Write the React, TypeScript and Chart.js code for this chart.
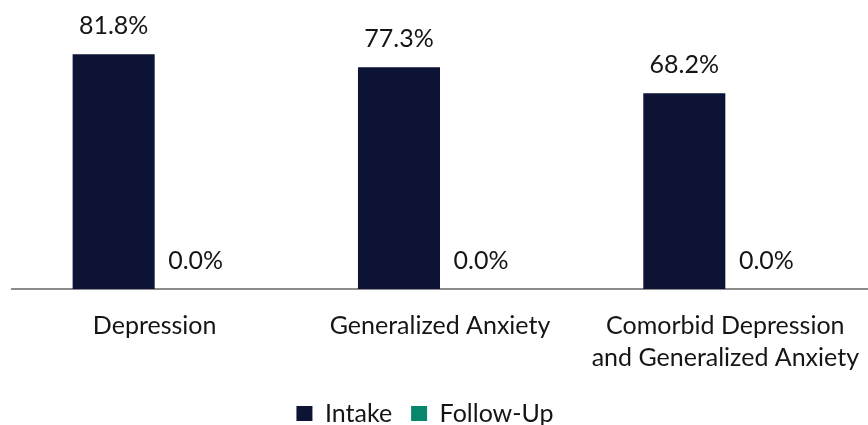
import React, { useEffect, useRef } from "react";
import { Chart, registerables } from "chart.js";

Chart.register(...registerables);

const categories: (string | string[])[] = [
  "Depression",
  "Generalized Anxiety",
  ["Comorbid Depression", "and Generalized Anxiety"],
];
const intakeValues = [81.8, 77.3, 68.2];
const followUpValues = [0.0, 0.0, 0.0];
const seriesNames = ["Intake", "Follow-Up"];
const seriesColors = ["#0c1334", "#06866b"];

const FONT = "Lato, 'Noto Sans', sans-serif";

const valueLabels = {
  id: "valueLabels",
  afterDatasetsDraw(chart: any) {
    const ctx = chart.ctx;
    ctx.save();
    ctx.font = `25px ${FONT}`;
    ctx.fillStyle = "#151515";
    ctx.textAlign = "center";
    ctx.textBaseline = "alphabetic";
    chart.data.datasets.forEach((ds: any, di: number) => {
      const meta = chart.getDatasetMeta(di);
      meta.data.forEach((el: any, i: number) => {
        const v = ds.data[i] as number;
        ctx.fillText(v.toFixed(1) + "%", el.x, el.y - 20);
      });
    });
    ctx.restore();
  },
};

const legendShift = {
  id: "legendShift",
  afterLayout(chart: any) {
    const lg = chart.legend;
    if (lg) {
      lg.left -= 15;
      lg.right -= 15;
    }
  },
};

export default function App() {
  const ref = useRef<HTMLCanvasElement | null>(null);
  useEffect(() => {
    if (!ref.current) return;
    const chart = new Chart(ref.current, {
      type: "bar",
      data: {
        labels: categories,
        datasets: [
          {
            label: seriesNames[0],
            data: intakeValues,
            backgroundColor: seriesColors[0],
            categoryPercentage: 0.575,
            barPercentage: 1,
          },
          {
            label: seriesNames[1],
            data: followUpValues,
            backgroundColor: seriesColors[1],
            categoryPercentage: 0.575,
            barPercentage: 1,
          },
        ],
      },
      options: {
        animation: false,
        responsive: false,
        maintainAspectRatio: false,
        layout: { padding: { left: 12, right: 0, top: 2, bottom: -11 } },
        scales: {
          x: {
            grid: {
              display: true,
              drawOnChartArea: false,
              drawTicks: true,
              tickLength: 21,
              color: "rgba(0,0,0,0)",
            },
            border: { display: true, color: "#8c8c8c", width: 2 },
            ticks: {
              color: "#151515",
              font: { family: FONT, size: 25, lineHeight: 1.28 },
              padding: 0,
              maxRotation: 0,
              autoSkip: false,
            },
            afterFit(scale: any) {
              scale.height += 8;
            },
          },
          y: {
            display: false,
            min: 0,
            max: 100,
          },
        },
        plugins: {
          legend: {
            position: "bottom",
            labels: {
              color: "#151515",
              font: { family: FONT, size: 25 },
              boxWidth: 16,
              boxHeight: 15,
              padding: 19,
            },
          },
          tooltip: { enabled: false },
        },
      },
      plugins: [valueLabels, legendShift],
    });
    return () => chart.destroy();
  }, []);
  return (
    <div style={{ position: "fixed", left: 0, top: 0, width: 868, height: 425, background: "#fff" }}>
      <canvas ref={ref} width={868} height={425} style={{ width: 868, height: 425 }} />
    </div>
  );
}
